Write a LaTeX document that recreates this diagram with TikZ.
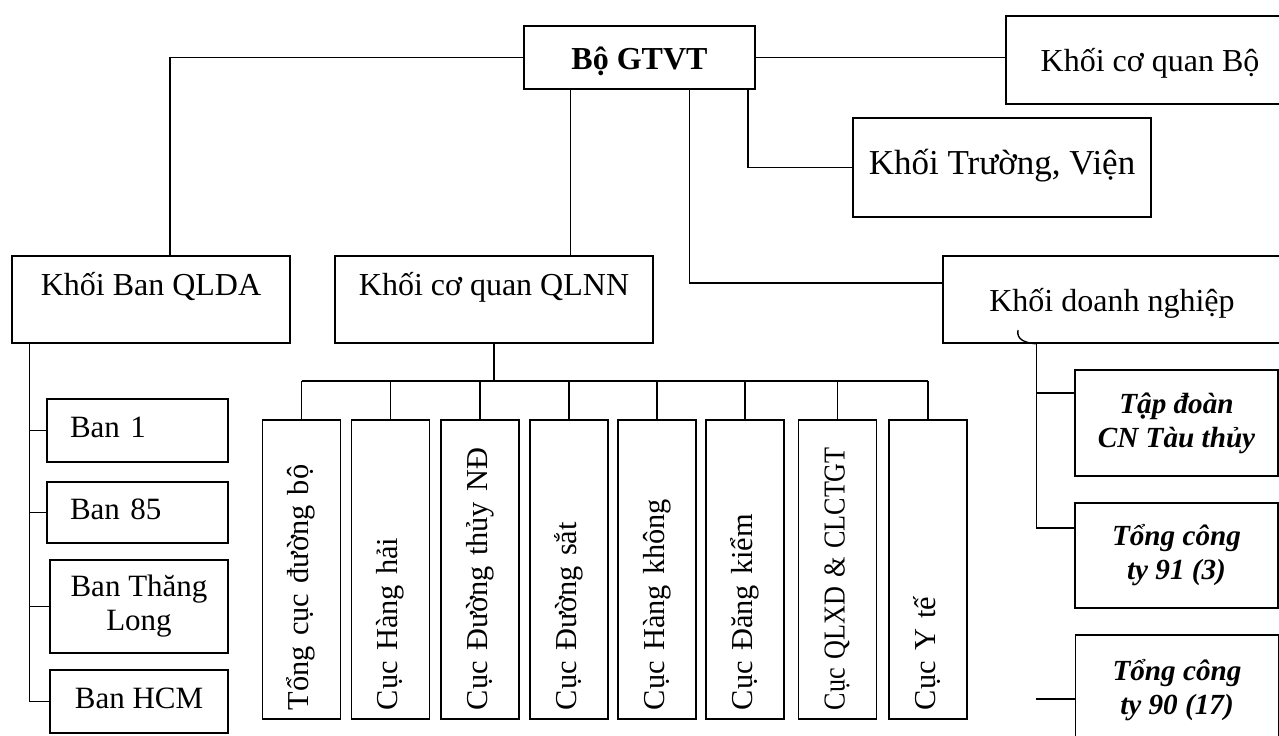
\documentclass[tikz,border=0pt]{standalone}
\usepackage{graphicx}
\usepackage{fontspec}
\setmainfont{Liberation Serif}
\begin{document}
\begin{tikzpicture}[x=0.5pt, y=-0.5pt,
    font=\fontsize{16}{17.5}\selectfont,
    blok/.style={draw, line width=0.8pt, inner sep=0pt},
    een/.style={text height=11pt, text depth=4pt},
    laag/.style={text height=12pt, text depth=0.3pt},
    hoog/.style={text height=11pt, text depth=15.3pt},
    cuc/.style={blok, een, rotate=90, minimum width=149.5pt, minimum height=39pt,
        text width=140.5pt, inner xsep=4.5pt, align=left, font=\fontsize{15.2}{17}\selectfont},
    ban/.style={blok, minimum width=89pt, align=center, font=\fontsize{15.5}{17}\selectfont},
    cty/.style={blok, align=center, minimum width=101.5pt, font=\fontsize{14.6}{17}\selectfont\bfseries\itshape},
    lijn/.style={line width=0.7pt}]
    \clip (0,0) rectangle (1279,735);

    % Ministry and its blocks
    \node [blok, laag, minimum width=115.5pt, minimum height=31.5pt] (bo) at (639.5,57.5) {\bfseries Bộ GTVT};
    \node [blok, laag, minimum width=144pt, minimum height=44pt] (cqbo) at (1150,60) {Khối cơ quan Bộ};
    \node [blok, een, minimum width=149pt, minimum height=49.5pt, font=\fontsize{17.5}{19}\selectfont] (truong) at (1002,167.5) {Khối Trường, Viện};
    \node [blok, hoog, minimum width=139pt, minimum height=43.5pt] (qlda) at (151,299.5) {Khối Ban QLDA};
    \node [blok, hoog, minimum width=159pt, minimum height=43.5pt] (qlnn) at (494,299.5) {Khối cơ quan QLNN};
    \node [blok, laag, minimum width=169pt, minimum height=43.5pt] (dn) at (1112,299.5) {Khối doanh nghiệp};

    \draw [lijn] (bo.west) -| ([xshift=9.5pt]qlda.north);
    \draw [lijn] (bo.east) -- (bo.east -| cqbo.west);
    \draw [lijn] (bo.south west) ++(47,0) coordinate (d1) -- (d1 |- qlnn.north);
    \draw [lijn] (bo.south west) ++(166,0) coordinate (d2) |- ([yshift=8.25pt]dn.west);
    \draw [lijn] (bo.south east) ++(-8,0) coordinate (d3) |- (truong.west);

    % Project boards
    \node [ban, een, minimum width=90.5pt, minimum height=31.5pt, text width=67.5pt, inner xsep=11.5pt, align=left] (ban1) at (137.5,430.5) {Ban 1};
    \node [ban, een, minimum width=90.5pt, minimum height=30.5pt, text width=67.5pt, inner xsep=11.5pt, align=left] (ban85) at (137.5,512.5) {Ban 85};
    \node [ban, minimum height=46.5pt] (bantl) at (139,606.5) {Ban Thăng\\Long};
    \node [ban, een, minimum height=31.5pt] (banhcm) at (139,701.5) {Ban HCM};
    \foreach \b in {ban1,ban85,bantl,banhcm} {
        \draw [lijn] ([xshift=9pt]qlda.south west) |- (\b.west);
    }

    % Departments
    \draw [lijn] (qlnn.south) -- ++(0,37) coordinate (bus);
    \foreach \n/\x/\s/\t in {tcdb/301.5/1/Tổng cục đường bộ, hanghai/390.5/1/Cục Hàng hải,
        dtnd/480/1/Cục Đường thủy NĐ, dsat/569/1/Cục Đường sắt, hkhong/657/1/Cục Hàng không,
        dkiem/745/1/Cục Đăng kiểm, qlxd/837.5/0.86/Cục QLXD \& CLCTGT, yte/928/1/Cục Y tế} {
        \node [cuc] (\n) at (\x,569.5) {\scalebox{\s}[1]{\t}};
        \draw [lijn] (\n.east) -- (\n.east |- bus);
    }
    \draw [lijn] (tcdb.east |- bus) -- (yte.east |- bus);

    % Enterprises
    \node [cty, minimum height=53pt] (tapdoan) at (1176.5,423) {Tập đoàn\\CN Tàu thủy};
    \node [cty, minimum height=52.5pt] (tct91) at (1176.5,555.5) {Tổng công\\ty 91 (3)};
    \node [cty, minimum height=55pt] (tct90) at (1177,690) {Tổng công\\ty 90 (17)};

    \draw [lijn] (dn.south west) ++(94,0) coordinate (dnb) .. controls (1026,343) and (1016,340) .. (1018,330);
    \draw [lijn] (dnb) |- ([yshift=15pt]tapdoan.west);
    \draw [lijn] (dnb) |- ([yshift=13.75pt]tct91.west);
    \draw [lijn] ([yshift=-4.5pt]tct90.west) -- ++(-39,0);
\end{tikzpicture}
\end{document}
